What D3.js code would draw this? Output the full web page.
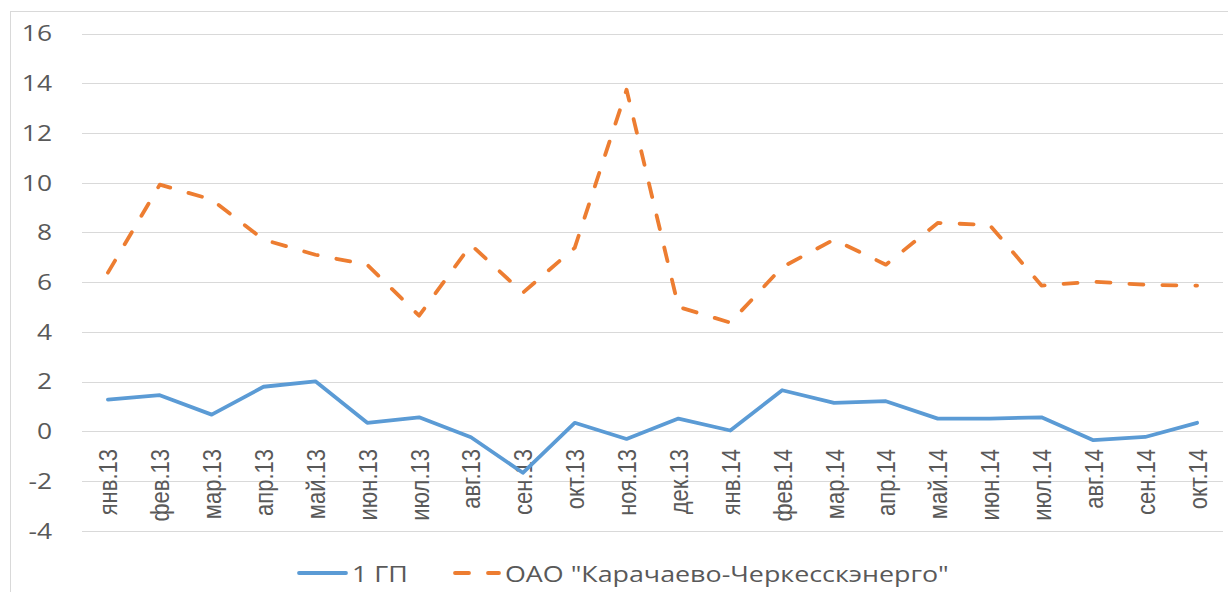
<!DOCTYPE html>
<html>
<head>
<meta charset="utf-8">
<script src="https://cdn.jsdelivr.net/npm/d3@7"></script>
<style>
  html, body { margin: 0; padding: 0; background: #fff; }
  svg { display: block; }
</style>
</head>
<body>
<div id="chart"></div>
<script>
// chart data
var months = ["янв.13", "фев.13", "мар.13", "апр.13", "май.13", "июн.13", "июл.13", "авг.13",
  "сен.13", "окт.13", "ноя.13", "дек.13", "янв.14", "фев.14", "мар.14", "апр.14",
  "май.14", "июн.14", "июл.14", "авг.14", "сен.14", "окт.14"];
var gpValues = [1.27, 1.45, 0.67, 1.79, 2.01, 0.34, 0.56, -0.24, -1.67, 0.34, -0.31,
  0.51, 0.03, 1.65, 1.14, 1.21, 0.51, 0.51, 0.56, -0.36, -0.23, 0.34];
var kchValues = [6.38, 9.92, 9.32, 7.71, 7.1, 6.7, 4.65, 7.5, 5.57, 7.38, 13.74,
  5.0, 4.37, 6.6, 7.71, 6.7, 8.38, 8.3, 5.86, 6.02, 5.89, 5.86];
var yTicks = [-4, -2, 0, 2, 4, 6, 8, 10, 12, 14, 16];
var seriesNames = ["1 ГП", "ОАО \"Карачаево-Черкесскэнерго\""];

var W = 1228, H = 592;
var stretch = 1.2; // text in the reference is a bit wide

var svg = d3.select("#chart").append("svg")
  .attr("width", W)
  .attr("height", H);

// outer frame
svg.append("rect")
  .attr("x", 10.5).attr("y", 11.5)
  .attr("width", 1240).attr("height", 600)
  .attr("fill", "none")
  .attr("stroke", "#d9d9d9")
  .attr("stroke-width", 1);

var x = d3.scaleBand().domain(months).range([82, 1223]);
var y = d3.scaleLinear().domain([-4, 16]).range([530.7, 33.5]);
function cx(d) { return x(d) + x.bandwidth() / 2; }

// grid
svg.append("g").selectAll("line")
  .data(yTicks)
  .enter().append("line")
  .attr("x1", 82).attr("x2", 1223)
  .attr("y1", function (d) { return Math.round(y(d)) + 0.5; })
  .attr("y2", function (d) { return Math.round(y(d)) + 0.5; })
  .attr("stroke", "#d9d9d9")
  .attr("stroke-width", 1.2);

// y labels
svg.append("g").selectAll("text")
  .data(yTicks)
  .enter().append("text")
  .attr("transform", function (d) { return "translate(52," + y(d) + ") scale(" + stretch + ",1)"; })
  .attr("dy", "0.36em")
  .attr("text-anchor", "end")
  .attr("font-family", "Open Sans, sans-serif")
  .attr("font-size", 22)
  .attr("fill", "#595959")
  .text(function (d) { return d; });

// x labels (rotated)
svg.append("g").selectAll("text")
  .data(months)
  .enter().append("text")
  .attr("transform", function (d) { return "translate(" + cx(d) + ",449) scale(" + stretch + ",1) rotate(-90)"; })
  .attr("dy", "0.36em")
  .attr("text-anchor", "end")
  .attr("font-family", "Liberation Sans, Arial, sans-serif")
  .attr("font-size", 22)
  .attr("fill", "#595959")
  .text(function (d) { return d; });

var line = d3.line()
  .x(function (d, i) { return cx(months[i]); })
  .y(function (d) { return y(d); });

svg.append("path")
  .datum(kchValues)
  .attr("d", line)
  .attr("fill", "none")
  .attr("stroke", "#ed7d31")
  .attr("stroke-width", 3.8)
  .attr("stroke-linecap", "round")
  .attr("stroke-linejoin", "round")
  .attr("stroke-dasharray", "14 19");

svg.append("path")
  .datum(gpValues)
  .attr("d", line)
  .attr("fill", "none")
  .attr("stroke", "#5b9bd5")
  .attr("stroke-width", 3.8)
  .attr("stroke-linecap", "round")
  .attr("stroke-linejoin", "round");

// legend
var legend = svg.append("g");
legend.append("line")
  .attr("x1", 299).attr("x2", 346).attr("y1", 573).attr("y2", 573)
  .attr("stroke", "#5b9bd5").attr("stroke-width", 3.8).attr("stroke-linecap", "round");
legend.append("text")
  .attr("transform", "translate(352,582) scale(1.22,1)")
  .attr("font-family", "Open Sans, sans-serif")
  .attr("font-size", 22)
  .attr("fill", "#595959")
  .text(seriesNames[0]);
legend.append("line")
  .attr("x1", 455).attr("x2", 499).attr("y1", 573).attr("y2", 573)
  .attr("stroke", "#ed7d31").attr("stroke-width", 3.8).attr("stroke-linecap", "round")
  .attr("stroke-dasharray", "14 19");
legend.append("text")
  .attr("transform", "translate(505,582) scale(1.22,1)")
  .attr("font-family", "Open Sans, sans-serif")
  .attr("font-size", 22)
  .attr("fill", "#595959")
  .text(seriesNames[1]);
</script>
</body>
</html>
